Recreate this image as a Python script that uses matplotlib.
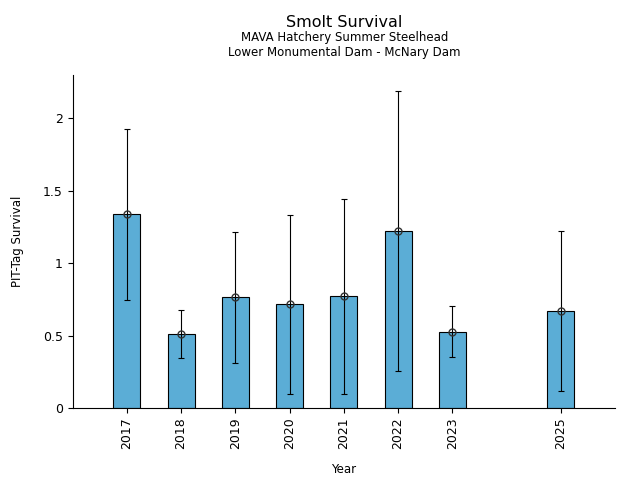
import numpy as np
import matplotlib
matplotlib.use("Agg")
import matplotlib.pyplot as plt
from matplotlib.ticker import FuncFormatter

years = [2017, 2018, 2019, 2020, 2021, 2022, 2023, 2025]
survival = [1.34, 0.51, 0.766, 0.717, 0.773, 1.223, 0.524, 0.671]
upper = [1.929, 0.678, 1.216, 1.333, 1.446, 2.19, 0.704, 1.223]
lower = [0.747, 0.344, 0.309, 0.10, 0.097, 0.254, 0.351, 0.115]

surv = np.array(survival)
yerr = [surv - np.array(lower), np.array(upper) - surv]

fig = plt.figure(figsize=(6.4, 4.8), dpi=100)
ax = fig.add_axes([0.1135, 0.15, 0.8475, 0.694])

ax.bar(years, survival, width=0.5, color="#5BADD6", edgecolor="black", linewidth=0.8)
ax.errorbar(years, survival, yerr=yerr, fmt="o", mfc="none", mec="#333333", ms=5,
            ecolor="black", elinewidth=0.8, capsize=2.5, capthick=0.8)

ax.set_xlim(2016, 2026)
ax.set_ylim(0, 2.3)
ax.set_xticks(years)
ax.set_xticklabels([str(y) for y in years], rotation=90)
ax.set_yticks([0, 0.5, 1, 1.5, 2])
ax.yaxis.set_major_formatter(FuncFormatter(lambda v, p: "%g" % v))
ax.tick_params(labelsize=9)
ax.spines["top"].set_visible(False)
ax.spines["right"].set_visible(False)
ax.set_xlabel("Year", fontsize=8.5)
ax.set_ylabel("PIT-Tag Survival", fontsize=8.5)
ax.xaxis.set_label_coords(0.5, -0.165)
ax.yaxis.set_label_coords(-0.09, 0.5)

fig.text(0.538, 0.953, "Smolt Survival", ha="center", va="center", fontsize=11.5)
fig.text(0.538, 0.922, "MAVA Hatchery Summer Steelhead", ha="center", va="center", fontsize=8.5)
fig.text(0.538, 0.891, "Lower Monumental Dam - McNary Dam", ha="center", va="center", fontsize=8.5)

fig.savefig("out.png", dpi=100)
